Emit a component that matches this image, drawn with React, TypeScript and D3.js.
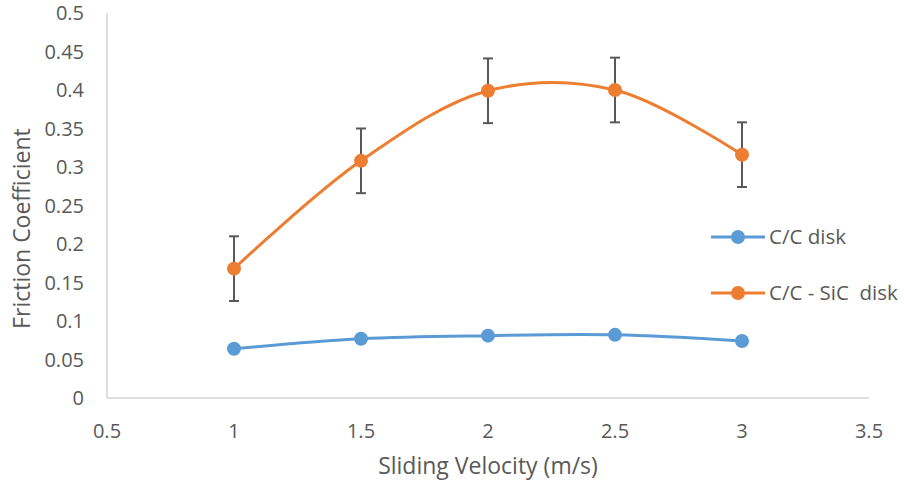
import * as d3 from "d3";
import React, { useEffect, useRef } from "react";

const velocities = [1, 1.5, 2, 2.5, 3];
const ccDisk = [0.064, 0.077, 0.081, 0.082, 0.074];
const ccDiskErr = [0.003, 0.003, 0.003, 0.003, 0.003];
const ccSicDisk = [0.168, 0.308, 0.399, 0.4, 0.316];
const ccSicDiskErr = [0.042, 0.042, 0.042, 0.042, 0.042];
const xTicks = [0.5, 1, 1.5, 2, 2.5, 3, 3.5];
const yTicks = [0, 0.05, 0.1, 0.15, 0.2, 0.25, 0.3, 0.35, 0.4, 0.45, 0.5];

const series = [
  { name: "C/C disk", values: ccDisk, err: ccDiskErr, color: "#5B9BD5" },
  { name: "C/C - SiC  disk", values: ccSicDisk, err: ccSicDiskErr, color: "#ED7D31" },
];

const W = 904;
const H = 484;
const font = "'Open Sans', sans-serif";
const textColor = "#595959";

const App: React.FC = () => {
  const ref = useRef<SVGSVGElement | null>(null);

  useEffect(() => {
    if (!ref.current) return;
    const svg = d3.select(ref.current);
    svg.selectAll("*").remove();

    const x = d3.scaleLinear().domain([0.5, 3.5]).range([107, 869]);
    const y = d3.scaleLinear().domain([0, 0.5]).range([398, 13]);

    // axes lines
    svg.append("line")
      .attr("x1", x(0.5)).attr("x2", x(0.5))
      .attr("y1", y(0.5)).attr("y2", y(0))
      .attr("stroke", "#BFBFBF").attr("stroke-width", 1);
    svg.append("line")
      .attr("x1", x(0.5)).attr("x2", x(3.5))
      .attr("y1", y(0)).attr("y2", y(0))
      .attr("stroke", "#BFBFBF").attr("stroke-width", 1);

    svg.append("g").selectAll("text")
      .data(yTicks).enter().append("text")
      .attr("x", 84).attr("y", (d) => y(d))
      .attr("dy", "0.35em").attr("text-anchor", "end")
      .attr("font-family", font).attr("font-size", 20).attr("fill", textColor)
      .text((d) => String(d));

    svg.append("g").selectAll("text")
      .data(xTicks).enter().append("text")
      .attr("x", (d) => x(d)).attr("y", 431)
      .attr("dy", "0.35em").attr("text-anchor", "middle")
      .attr("font-family", font).attr("font-size", 20).attr("fill", textColor)
      .text((d) => String(d));

    svg.append("text")
      .attr("x", 488).attr("y", 466).attr("dy", "0.35em")
      .attr("text-anchor", "middle")
      .attr("font-family", font).attr("font-size", 23).attr("fill", textColor)
      .text("Sliding Velocity (m/s)");

    svg.append("text")
      .attr("transform", `translate(22,${y(0.22)}) rotate(-90)`)
      .attr("dy", "0.35em").attr("text-anchor", "middle")
      .attr("font-family", font).attr("font-size", 23).attr("fill", textColor)
      .text("Friction Coefficient");

    const line = d3.line<number>()
      .x((_, i) => x(velocities[i]))
      .y((d) => y(d))
      .curve(d3.curveCatmullRom.alpha(0.5));

    series.forEach((s) => {
      const g = svg.append("g");
      g.append("path")
        .attr("d", line(s.values) as string)
        .attr("fill", "none").attr("stroke", s.color).attr("stroke-width", 3);

      // error bars
      s.values.forEach((v, i) => {
        const cx = x(velocities[i]);
        const top = y(v + s.err[i]);
        const bot = y(v - s.err[i]);
        g.append("line").attr("x1", cx).attr("x2", cx).attr("y1", top).attr("y2", bot)
          .attr("stroke", "#595959").attr("stroke-width", 2);
        [top, bot].forEach((yy) =>
          g.append("line").attr("x1", cx - 5).attr("x2", cx + 5).attr("y1", yy).attr("y2", yy)
            .attr("stroke", "#595959").attr("stroke-width", 2)
        );
      });

      g.selectAll("circle")
        .data(s.values).enter().append("circle")
        .attr("cx", (_, i) => x(velocities[i])).attr("cy", (d) => y(d))
        .attr("r", 7).attr("fill", s.color);
    });

    // legend
    const legendY = [237, 293];
    series.forEach((s, i) => {
      const ly = legendY[i];
      svg.append("line").attr("x1", 711).attr("x2", 765).attr("y1", ly).attr("y2", ly)
        .attr("stroke", s.color).attr("stroke-width", 3);
      svg.append("circle").attr("cx", 738).attr("cy", ly).attr("r", 7).attr("fill", s.color);
      svg.append("text")
        .attr("x", 769).attr("y", ly).attr("dy", "0.35em")
        .attr("font-family", font).attr("font-size", 20.5).attr("fill", textColor)
        .attr("xml:space", "preserve")
        .style("white-space", "pre")
        .text(s.name);
    });
  }, []);

  return (
    <svg ref={ref} width={W} height={H} style={{ position: "absolute", left: 0, top: 0, background: "#fff" }} />
  );
};

export default App;
